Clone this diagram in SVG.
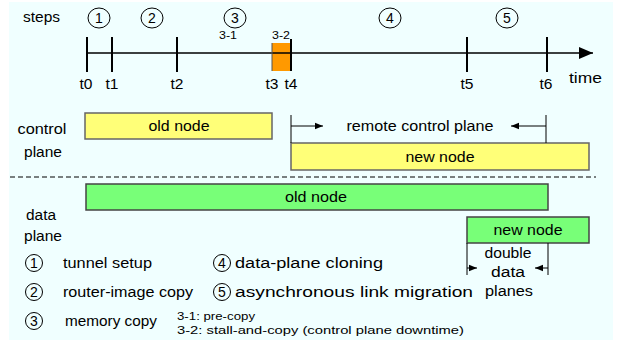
<svg xmlns="http://www.w3.org/2000/svg" width="619" height="343" viewBox="0 0 619 343">
  <style>
    text { font-family: "Liberation Sans", Arial, sans-serif; fill: #000; }
    .lbl { font-size: 14px; }
    .num { font-size: 14px; text-anchor: middle; }
    .sm { font-size: 11px; }
    .mid { text-anchor: middle; }
    .circ { fill: none; stroke: #000; stroke-width: 1; }
    .tick { stroke: #000; stroke-width: 2; }
    .ln { stroke: #000; stroke-width: 1; fill: none; }
    .cp { fill: #ffff78; stroke: #666; stroke-width: 1.5; }
    .dp { fill: #78ff78; stroke: #444; stroke-width: 1.5; }
  </style>
  <defs>
    <marker id="ah" viewBox="0 0 10 10" refX="10" refY="5" markerWidth="10" markerHeight="8" markerUnits="userSpaceOnUse" orient="auto">
      <path d="M0,1 L10,5 L0,9 Z" fill="#000"/>
    </marker>
    <marker id="big" viewBox="0 0 14 12" refX="14" refY="6" markerWidth="15" markerHeight="12" markerUnits="userSpaceOnUse" orient="auto">
      <path d="M0,0 L14,6 L0,12 Z" fill="#000"/>
    </marker>
  </defs>

  <rect x="9" y="2" width="604" height="338" fill="#f0ffff"/>

  <!-- step numbers above the time axis -->
  <g id="steps">
    <text class="lbl" x="23" y="22" textLength="37" lengthAdjust="spacingAndGlyphs">steps</text>
    <ellipse class="circ" cx="99" cy="18" rx="11" ry="10"/><text class="num" x="99" y="23">1</text>
    <ellipse class="circ" cx="152" cy="18" rx="11" ry="10"/><text class="num" x="152" y="23">2</text>
    <ellipse class="circ" cx="235" cy="18" rx="11" ry="10"/><text class="num" x="235" y="23">3</text>
    <ellipse class="circ" cx="390" cy="18" rx="11" ry="10"/><text class="num" x="390" y="23">4</text>
    <ellipse class="circ" cx="507" cy="18" rx="11" ry="10"/><text class="num" x="507" y="23">5</text>
    <text class="sm mid" x="228" y="39" textLength="18" lengthAdjust="spacingAndGlyphs">3-1</text>
    <text class="sm mid" x="281" y="39" textLength="18" lengthAdjust="spacingAndGlyphs">3-2</text>
  </g>

  <!-- time axis -->
  <g id="timeline">
    <rect x="272" y="43" width="19" height="28" fill="#ff9900"/>
    <line x1="87" y1="53" x2="593" y2="53" stroke="#000" stroke-width="1.5" marker-end="url(#big)"/>
    <line class="tick" x1="87" y1="37" x2="87" y2="72"/>
    <line class="tick" x1="112" y1="37" x2="112" y2="72"/>
    <line class="tick" x1="177" y1="37" x2="177" y2="72"/>
    <line x1="272" y1="43" x2="272" y2="71" stroke="#555" stroke-width="1"/>
    <line class="tick" x1="291" y1="39" x2="291" y2="71"/>
    <line class="tick" x1="467" y1="37" x2="467" y2="72"/>
    <line class="tick" x1="547" y1="37" x2="547" y2="72"/>
    <text class="lbl mid" x="86" y="89" textLength="13" lengthAdjust="spacingAndGlyphs">t0</text>
    <text class="lbl mid" x="112" y="89" textLength="13" lengthAdjust="spacingAndGlyphs">t1</text>
    <text class="lbl mid" x="177" y="89" textLength="13" lengthAdjust="spacingAndGlyphs">t2</text>
    <text class="lbl mid" x="272" y="89" textLength="13" lengthAdjust="spacingAndGlyphs">t3</text>
    <text class="lbl mid" x="291" y="89" textLength="13" lengthAdjust="spacingAndGlyphs">t4</text>
    <text class="lbl mid" x="467" y="89" textLength="13" lengthAdjust="spacingAndGlyphs">t5</text>
    <text class="lbl mid" x="546" y="89" textLength="13" lengthAdjust="spacingAndGlyphs">t6</text>
    <text class="lbl" x="569" y="83" textLength="33" lengthAdjust="spacingAndGlyphs">time</text>
  </g>

  <!-- control plane -->
  <g id="control-label">
    <text class="lbl mid" x="42" y="134" textLength="49" lengthAdjust="spacingAndGlyphs">control</text>
    <text class="lbl mid" x="43" y="157" textLength="38" lengthAdjust="spacingAndGlyphs">plane</text>
  </g>
  <g id="cp-old">
    <rect class="cp" x="85" y="113" width="187" height="26"/>
    <text class="lbl mid" x="179" y="131" textLength="61" lengthAdjust="spacingAndGlyphs">old node</text>
  </g>
  <g id="cp-new">
    <rect class="cp" x="291" y="143" width="298" height="27"/>
    <text class="lbl mid" x="440" y="162" textLength="69" lengthAdjust="spacingAndGlyphs">new node</text>
  </g>

  <line x1="10" y1="177" x2="596" y2="177" stroke="#000" stroke-width="1" stroke-dasharray="5,3"/>

  <!-- data plane -->
  <g id="data-label">
    <text class="lbl mid" x="41" y="220" textLength="30" lengthAdjust="spacingAndGlyphs">data</text>
    <text class="lbl mid" x="43" y="241" textLength="38" lengthAdjust="spacingAndGlyphs">plane</text>
  </g>
  <g id="dp-old">
    <rect class="dp" x="86" y="184" width="462" height="26"/>
    <text class="lbl mid" x="316" y="202" textLength="62" lengthAdjust="spacingAndGlyphs">old node</text>
  </g>
  <g id="dp-new">
    <rect class="dp" x="467" y="217" width="122" height="26"/>
    <text class="lbl mid" x="528" y="235" textLength="69" lengthAdjust="spacingAndGlyphs">new node</text>
  </g>

  <!-- span markers -->
  <g id="connectors">
    <line class="ln" x1="291" y1="115" x2="291" y2="143"/>
    <line class="ln" x1="291" y1="126" x2="323" y2="126" marker-end="url(#ah)"/>
    <line class="ln" x1="546" y1="115" x2="546" y2="143" stroke="#444"/>
    <line class="ln" x1="546" y1="126" x2="511" y2="126" marker-end="url(#ah)"/>
    <line class="ln" x1="467" y1="243" x2="467" y2="275"/>
    <line class="ln" x1="467" y1="268" x2="477" y2="268" marker-end="url(#ah)"/>
    <line class="ln" x1="548" y1="243" x2="548" y2="275" stroke="#555" stroke-width="1.5"/>
    <line class="ln" x1="548" y1="268" x2="535" y2="268" marker-end="url(#ah)"/>
  </g>
  <g id="span-labels">
    <text class="lbl mid" x="420" y="131" textLength="147" lengthAdjust="spacingAndGlyphs">remote control plane</text>
    <text class="lbl mid" x="508" y="258" textLength="47" lengthAdjust="spacingAndGlyphs">double</text>
    <text class="lbl mid" x="508" y="277" textLength="34" lengthAdjust="spacingAndGlyphs">data</text>
    <text class="lbl mid" x="509" y="296" textLength="48" lengthAdjust="spacingAndGlyphs">planes</text>
  </g>

  <!-- legend -->
  <g id="legend">
    <ellipse class="circ" cx="34" cy="263" rx="8.5" ry="8.5"/><text class="num" x="34" y="268">1</text>
    <text class="lbl" x="63" y="268" textLength="89" lengthAdjust="spacingAndGlyphs">tunnel setup</text>
    <ellipse class="circ" cx="34" cy="292" rx="8.5" ry="8.5"/><text class="num" x="34" y="297">2</text>
    <text class="lbl" x="63" y="297" textLength="130" lengthAdjust="spacingAndGlyphs">router-image copy</text>
    <ellipse class="circ" cx="34" cy="321" rx="8.5" ry="8.5"/><text class="num" x="34" y="326">3</text>
    <text class="lbl" x="65" y="326" textLength="92" lengthAdjust="spacingAndGlyphs">memory copy</text>
    <ellipse class="circ" cx="222" cy="263" rx="8.5" ry="8.5"/><text class="num" x="222" y="268">4</text>
    <text class="lbl" x="235" y="268" textLength="148" lengthAdjust="spacingAndGlyphs">data-plane cloning</text>
    <ellipse class="circ" cx="222" cy="292" rx="8.5" ry="8.5"/><text class="num" x="222" y="297">5</text>
    <text class="lbl" x="235" y="297" textLength="238" lengthAdjust="spacingAndGlyphs">asynchronous link migration</text>
    <text class="sm" x="177" y="320" textLength="78" lengthAdjust="spacingAndGlyphs">3-1: pre-copy</text>
    <text class="sm" x="177" y="334" textLength="287" lengthAdjust="spacingAndGlyphs">3-2: stall-and-copy (control plane downtime)</text>
  </g>
</svg>
